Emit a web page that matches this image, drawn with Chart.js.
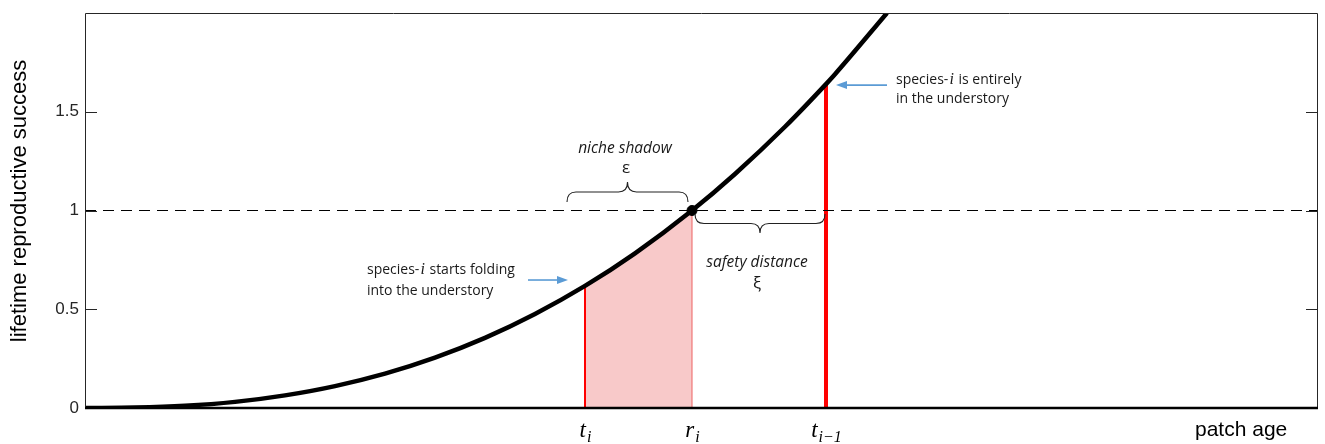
<!DOCTYPE html>
<html>
<head>
<meta charset="utf-8">
<script src="https://cdn.jsdelivr.net/npm/chart.js@4/dist/chart.umd.min.js"></script>
<style>
  html, body { margin: 0; padding: 0; background: #fff; }
  #wrap { width: 1325px; height: 444px; }
</style>
</head>
<body>
<div id="wrap"><canvas id="lrsChart" width="1325" height="444"></canvas></div>
<script>
// lifetime reproductive success vs patch age
const curveAge = [0, 0.5, 1, 1.5, 2, 2.5, 3, 3.5, 4, 4.5, 5, 5.5, 6.07, 6.5, 7, 7.41, 7.5, 8.02];
const curveLRS = [0, 0.002, 0.011, 0.031, 0.064, 0.111, 0.174, 0.255, 0.355, 0.476, 0.618, 0.783, 1.0, 1.185, 1.424, 1.64, 1.69, 2.0];

// niche shadow region between t_i and r_i
const shadowAge = [5, 5.5, 6.07];
const shadowLRS = [0.618, 0.783, 1.0];

// marked ages on the x axis
const markAges = [5, 6.07, 7.41];
const markLabels = [['t', 'i'], ['r', 'i'], ['t', 'i\u22121']];
const markHeights = [0.618, 1.0, 1.64];

const yTicks = [0, 0.5, 1, 1.5];
const yMax = 2;
const ageMax = 12.33;
const threshold = 1;

const pts = (xs, ys) => xs.map((x, i) => ({ x: x, y: ys[i] }));

const overlay = {
    id: 'overlay',
    afterDraw(chart) {
        const ctx = chart.ctx;
        const xs = chart.scales.x, ys = chart.scales.y;
        const a = chart.chartArea;
        const px = v => xs.getPixelForValue(v);
        const py = v => ys.getPixelForValue(v);

        ctx.save();
        // box
        ctx.strokeStyle = '#262626';
        ctx.lineWidth = 1;
        ctx.beginPath();
        ctx.moveTo(a.left + 0.5, a.bottom);
        ctx.lineTo(a.left + 0.5, a.top + 0.5);
        ctx.lineTo(a.right - 0.5, a.top + 0.5);
        ctx.lineTo(a.right - 0.5, a.bottom);
        ctx.stroke();
        // inward ticks left and right
        yTicks.forEach(t => {
            const y = Math.round(py(t)) + 0.5;
            ctx.beginPath();
            ctx.moveTo(a.left, y); ctx.lineTo(a.left + 12, y);
            ctx.moveTo(a.right, y); ctx.lineTo(a.right - 12, y);
            ctx.stroke();
        });
        // bottom axis
        ctx.strokeStyle = '#000';
        ctx.lineWidth = 2.5;
        ctx.beginPath();
        ctx.moveTo(a.left, a.bottom); ctx.lineTo(a.right, a.bottom);
        ctx.stroke();

        // y axis title
        ctx.save();
        ctx.translate(20, 201);
        ctx.rotate(-Math.PI / 2);
        ctx.fillStyle = '#000';
        ctx.font = '22px "Liberation Sans"';
        ctx.textAlign = 'center';
        ctx.textBaseline = 'middle';
        ctx.fillText('lifetime reproductive success', 0, 0);
        ctx.restore();

        // braces
        function brace(x1, x2, yb, yt) {
            const xm = (x1 + x2) / 2, ymid = (yb + yt) / 2, r = 9;
            ctx.beginPath();
            ctx.moveTo(x1, yb);
            ctx.quadraticCurveTo(x1, ymid, x1 + r, ymid);
            ctx.lineTo(xm - r, ymid);
            ctx.quadraticCurveTo(xm, ymid, xm, yt);
            ctx.quadraticCurveTo(xm, ymid, xm + r, ymid);
            ctx.lineTo(x2 - r, ymid);
            ctx.quadraticCurveTo(x2, ymid, x2, yb);
            ctx.stroke();
        }
        ctx.strokeStyle = '#222';
        ctx.lineWidth = 1.1;
        brace(px(4.82), px(6.03), py(1.043), py(1.144));
        brace(px(6.10), px(7.40), py(0.982), py(0.886));

        // annotation texts
        ctx.fillStyle = '#1a1a1a';
        ctx.textAlign = 'center';
        ctx.textBaseline = 'middle';
        ctx.font = 'italic 15.5px "Open Sans"';
        ctx.fillText('niche shadow', px(5.40), py(1.316));
        ctx.fillText('safety distance', px(6.72), py(0.734));
        ctx.font = '17px "Open Sans"';
        ctx.fillText('\u03b5', px(5.41), py(1.215));
        ctx.fillText('\u03be', px(6.72), py(0.628));

        function species(x, y, rest) {
            ctx.textAlign = 'left';
            ctx.font = '14px "Open Sans"';
            let w = ctx.measureText('species-').width;
            ctx.fillText('species-', x, y);
            ctx.font = 'italic 16px "Liberation Serif"';
            ctx.fillText('i', x + w + 1, y);
            const wi = ctx.measureText('i').width;
            ctx.font = '14px "Open Sans"';
            ctx.fillText(rest, x + w + wi + 2, y);
        }
        species(px(2.82), py(0.699), ' starts folding');
        ctx.fillText('into the understory', px(2.82), py(0.592));
        species(px(8.11), py(1.661), ' is entirely');
        ctx.fillText('in the understory', px(8.11), py(1.565));

        // arrows
        function arrow(x1, y, x2) {
            const dir = Math.sign(x2 - x1);
            ctx.strokeStyle = '#5b9bd5';
            ctx.fillStyle = '#5b9bd5';
            ctx.lineWidth = 1.6;
            ctx.beginPath();
            ctx.moveTo(x1, y); ctx.lineTo(x2 - dir * 8, y);
            ctx.stroke();
            ctx.beginPath();
            ctx.moveTo(x2, y);
            ctx.lineTo(x2 - dir * 11, y - 4);
            ctx.lineTo(x2 - dir * 11, y + 4);
            ctx.closePath();
            ctx.fill();
        }
        arrow(px(4.43), py(0.648), px(4.83));
        arrow(px(8.02), py(1.635), px(7.51));

        // x labels
        ctx.fillStyle = '#000';
        ctx.textBaseline = 'alphabetic';
        ctx.textAlign = 'left';
        markAges.forEach((age, i) => {
            const [b, s] = markLabels[i];
            ctx.font = 'italic 23px "Liberation Serif"';
            const wb = ctx.measureText(b).width;
            ctx.font = 'italic 16px "Liberation Serif"';
            const wsub = ctx.measureText(s).width;
            const x0 = px(age) - (wb + wsub) / 2;
            ctx.font = 'italic 23px "Liberation Serif"';
            ctx.fillText(b, x0, 437);
            ctx.font = 'italic 16px "Liberation Serif"';
            ctx.fillText(s, x0 + wb + 1, 442);
        });
        ctx.font = '21px "Liberation Sans"';
        ctx.fillStyle = '#000';
        ctx.fillText('patch age', 1195, 436);
        ctx.restore();
    }
};

new Chart(document.getElementById('lrsChart'), {
    type: 'scatter',
    data: {
        datasets: [
            {
                label: 'r_i',
                data: [{ x: markAges[1], y: threshold }],
                pointRadius: 5,
                pointBackgroundColor: '#000',
                pointBorderColor: '#000',
                showLine: false,
                order: 0
            },
            {
                label: 'LRS',
                data: pts(curveAge, curveLRS),
                showLine: true,
                borderColor: '#000',
                borderWidth: 4.5,
                pointRadius: 0,
                cubicInterpolationMode: 'monotone',
                order: 1
            },
            {
                label: 'threshold',
                data: [{ x: 0, y: threshold }, { x: ageMax, y: threshold }],
                showLine: true,
                borderColor: '#000',
                borderWidth: 1.2,
                borderDash: [11, 7],
                pointRadius: 0,
                order: 2
            },
            {
                label: 't_i',
                data: [{ x: markAges[0], y: 0 }, { x: markAges[0], y: markHeights[0] }],
                showLine: true,
                borderColor: '#ff0000',
                borderWidth: 2,
                pointRadius: 0,
                order: 3
            },
            {
                label: 't_i-1',
                data: [{ x: markAges[2], y: 0 }, { x: markAges[2], y: markHeights[2] }],
                showLine: true,
                borderColor: '#ff0000',
                borderWidth: 4,
                pointRadius: 0,
                order: 3
            },
            {
                label: 'r_i edge',
                data: [{ x: markAges[1], y: 0 }, { x: markAges[1], y: markHeights[1] }],
                showLine: true,
                borderColor: '#ee6262',
                borderWidth: 1,
                pointRadius: 0,
                order: 4
            },
            {
                label: 'shadow',
                data: pts(shadowAge, shadowLRS),
                showLine: true,
                borderWidth: 0,
                borderColor: 'rgba(0,0,0,0)',
                backgroundColor: '#f8c9c9',
                fill: 'origin',
                pointRadius: 0,
                cubicInterpolationMode: 'monotone',
                order: 5
            }
        ]
    },
    options: {
        responsive: false,
        animation: false,
        layout: { padding: { top: 13, right: 7, bottom: 36, left: 0 } },
        plugins: { legend: { display: false }, tooltip: { enabled: false } },
        scales: {
            x: {
                type: 'linear',
                min: 0,
                max: ageMax,
                display: false
            },
            y: {
                type: 'linear',
                min: 0,
                max: yMax,
                afterBuildTicks: s => { s.ticks = yTicks.map(v => ({ value: v })); },
                afterFit: s => { s.width = 85; s.paddingTop = 0; s.paddingBottom = 0; },
                grid: { display: false, drawTicks: false },
                border: { display: false },
                ticks: {
                    padding: 6,
                    color: '#262626',
                    font: { family: '"Liberation Sans"', size: 17 },
                    callback: v => String(v)
                }
            }
        }
    },
    plugins: [overlay]
});
</script>
</body>
</html>
